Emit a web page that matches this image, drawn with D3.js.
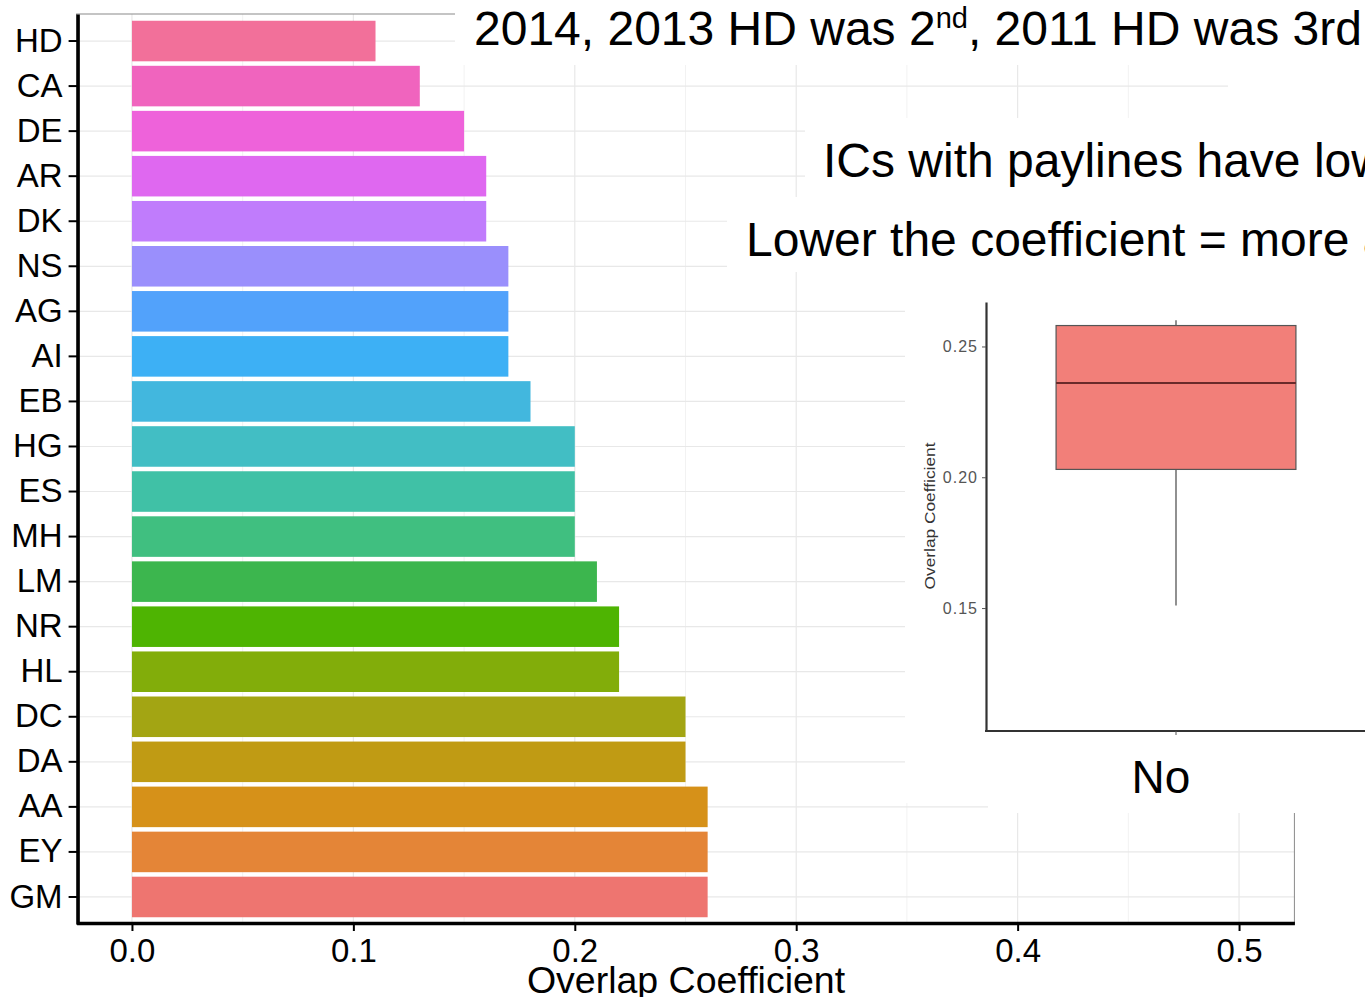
<!DOCTYPE html>
<html>
<head>
<meta charset="utf-8">
<script src="https://cdn.jsdelivr.net/npm/d3@7"></script>
<style>
  html, body { margin: 0; padding: 0; background: #fff; }
  svg { display: block; }
  text { font-family: "Liberation Sans", Arial, sans-serif; }
</style>
</head>
<body>
<script>
// ---------- data ----------
const categories = ["HD","CA","DE","AR","DK","NS","AG","AI","EB","HG","ES","MH","LM","NR","HL","DC","DA","AA","EY","GM"];
const values     = [0.11,0.13,0.15,0.16,0.16,0.17,0.17,0.17,0.18,0.20,0.20,0.20,0.21,0.22,0.22,0.25,0.25,0.26,0.26,0.26];
const barColors  = ["#F2709A","#F064BE","#EE62DA","#DF68F0","#C07CFC","#9A8FFC","#52A2FB","#3DB0F5","#42B7DE","#42BEC4",
                    "#40C1A6","#40BF80","#3CB64E","#4EB402","#82AD0A","#A3A513","#C09B14","#D69119","#E48537","#EE7570"];
const xTickValues = [0, 0.1, 0.2, 0.3, 0.4, 0.5];
const xTitle = "Overlap Coefficient";

// inset boxplot
const boxGroups = ["No"];
const boxLower  = [0.151];
const boxQ1     = [0.203];
const boxMedian = [0.236];
const boxQ3     = [0.258];
const boxUpper  = [0.260];
const insetTicks = [0.15, 0.20, 0.25];
const insetTitle = "Overlap Coefficient";

// slide text
const titlePre = "2014, 2013 HD was 2";
const titleSup = "nd";
const titlePost = ", 2011 HD was 3rd";
const note1 = "ICs with paylines have low";
const note2 = "Lower the coefficient = more a";

// ---------- layout ----------
const W = 1365, H = 997;
const svg = d3.select("body").append("svg").attr("width", W).attr("height", H);
svg.append("rect").attr("width", W).attr("height", H).attr("fill", "#fff");

const panel = {left: 76.6, right: 1294.4, top: 14, bottom: 924};
const xPad = 0.025;
const x = d3.scaleLinear().domain([xTickValues[0] - xPad, xTickValues[xTickValues.length-1] + xPad])
  .range([panel.left, panel.right]);
const y = d3.scaleBand().domain(categories).range([panel.top, panel.bottom])
  .paddingInner(0.1).paddingOuter(0.15);

// grid
const grid = svg.append("g");
const minor = d3.pairs(xTickValues).map(p => (p[0] + p[1]) / 2);
grid.selectAll(".vmin").data(minor).join("line")
  .attr("x1", d => x(d)).attr("x2", d => x(d)).attr("y1", panel.top).attr("y2", panel.bottom)
  .attr("stroke", "#f2f2f2").attr("stroke-width", 1);
grid.selectAll(".vmaj").data(xTickValues).join("line")
  .attr("x1", d => x(d)).attr("x2", d => x(d)).attr("y1", panel.top).attr("y2", panel.bottom)
  .attr("stroke", "#e8e8e8").attr("stroke-width", 1.2);
grid.selectAll(".h").data(categories).join("line")
  .attr("x1", panel.left).attr("x2", panel.right)
  .attr("y1", d => y(d) + y.bandwidth()/2).attr("y2", d => y(d) + y.bandwidth()/2)
  .attr("stroke", "#e8e8e8").attr("stroke-width", 1.2);

// bars
svg.append("g").selectAll("rect").data(categories).join("rect")
  .attr("x", x(0))
  .attr("y", d => y(d))
  .attr("width", (d, i) => x(values[i]) - x(0))
  .attr("height", y.bandwidth())
  .attr("fill", (d, i) => barColors[i]);

// panel border
svg.append("rect").attr("x", panel.left).attr("y", panel.top)
  .attr("width", panel.right - panel.left).attr("height", panel.bottom - panel.top)
  .attr("fill", "none").attr("stroke", "#8a8a8a").attr("stroke-width", 1);

// axes
const gx = svg.append("g").attr("transform", `translate(0,${panel.bottom - 1})`)
  .call(d3.axisBottom(x).tickValues(xTickValues).tickFormat(d3.format(".1f"))
    .tickSize(8).tickPadding(8).tickSizeOuter(0));
gx.select(".domain").attr("stroke", "#000").attr("stroke-width", 3.5);
gx.selectAll(".tick line").attr("stroke", "#000").attr("stroke-width", 2);
gx.selectAll(".tick text").attr("font-size", 33).attr("fill", "#000")
  .attr("font-family", "'Liberation Sans', Arial, sans-serif");

const gy = svg.append("g").attr("transform", `translate(${panel.left + 1},0)`)
  .call(d3.axisLeft(y).tickSize(9).tickPadding(6).tickSizeOuter(0));
gy.select(".domain").attr("stroke", "#000").attr("stroke-width", 3.5);
gy.selectAll(".tick line").attr("stroke", "#000").attr("stroke-width", 2);
gy.selectAll(".tick text").attr("font-size", 33).attr("fill", "#000")
  .attr("font-family", "'Liberation Sans', Arial, sans-serif");

svg.append("text").attr("x", (x(xTickValues[0]) + x(xTickValues[xTickValues.length-1])) / 2 + 0.5)
  .attr("y", 993).attr("text-anchor", "middle").attr("font-size", 37.5).attr("fill", "#000")
  .text(xTitle);

// ---------- slide overlays (white boxes) ----------
const boxes = [
  {x: 455, y: 0, w: 910, h: 65},
  {x: 1228, y: 65, w: 137, h: 53},
  {x: 805, y: 118, w: 560, h: 79},
  {x: 727, y: 197, w: 638, h: 75},
  {x: 905, y: 272, w: 460, h: 531},
  {x: 988, y: 803, w: 377, h: 10}
];
svg.append("g").selectAll("rect").data(boxes).join("rect")
  .attr("x", d => d.x).attr("y", d => d.y).attr("width", d => d.w).attr("height", d => d.h)
  .attr("fill", "#fff");

// title
const t = svg.append("text").attr("x", 474).attr("y", 45).attr("font-size", 48).attr("fill", "#000");
t.append("tspan").text(titlePre);
t.append("tspan").attr("dy", -17).attr("font-size", 29).text(titleSup);
t.append("tspan").attr("dy", 17).text(titlePost);

svg.append("text").attr("x", 823).attr("y", 177).attr("font-size", 48).attr("fill", "#000").text(note1);
svg.append("text").attr("x", 746).attr("y", 256).attr("font-size", 48).attr("fill", "#000").text(note2);

// ---------- inset boxplot ----------
const inset = svg.append("g");
const iy = d3.scaleLinear().domain([0.103, 0.267]).range([731, 302]);
const ix = d3.scaleBand().domain(boxGroups).range([981, 1371]);
const boxW = ix.bandwidth() * 0.615;

const giy = inset.append("g").attr("transform", "translate(986,0)")
  .call(d3.axisLeft(iy).tickValues(insetTicks).tickFormat(d3.format(".2f"))
    .tickSize(4).tickPadding(4).tickSizeOuter(0));
giy.select(".domain").attr("stroke", "#333").attr("stroke-width", 2.2);
giy.selectAll(".tick line").attr("stroke", "#555").attr("stroke-width", 1);
giy.selectAll(".tick text").attr("font-size", 16).attr("fill", "#555").attr("letter-spacing", 1)
  .attr("font-family", "'Liberation Sans', Arial, sans-serif");

inset.append("line").attr("x1", 985).attr("x2", W).attr("y1", iy.range()[0]).attr("y2", iy.range()[0])
  .attr("stroke", "#333").attr("stroke-width", 2.2);

const bg = inset.selectAll(".box").data(boxGroups).join("g");
bg.append("line")
  .attr("x1", d => ix(d) + ix.bandwidth()/2).attr("x2", d => ix(d) + ix.bandwidth()/2)
  .attr("y1", (d, i) => iy(boxLower[i])).attr("y2", (d, i) => iy(boxQ1[i]))
  .attr("stroke", "#555").attr("stroke-width", 1.3);
bg.append("line")
  .attr("x1", d => ix(d) + ix.bandwidth()/2).attr("x2", d => ix(d) + ix.bandwidth()/2)
  .attr("y1", (d, i) => iy(boxQ3[i])).attr("y2", (d, i) => iy(boxUpper[i]))
  .attr("stroke", "#555").attr("stroke-width", 1.3);
bg.append("rect")
  .attr("x", d => ix(d) + ix.bandwidth()/2 - boxW/2)
  .attr("y", (d, i) => iy(boxQ3[i]))
  .attr("width", boxW)
  .attr("height", (d, i) => iy(boxQ1[i]) - iy(boxQ3[i]))
  .attr("fill", "#F27F79").attr("stroke", "#555").attr("stroke-width", 1.2);
bg.append("line")
  .attr("x1", d => ix(d) + ix.bandwidth()/2 - boxW/2).attr("x2", d => ix(d) + ix.bandwidth()/2 + boxW/2)
  .attr("y1", (d, i) => iy(boxMedian[i])).attr("y2", (d, i) => iy(boxMedian[i]))
  .attr("stroke", "#6a2a2a").attr("stroke-width", 2);
bg.append("line")
  .attr("x1", d => ix(d) + ix.bandwidth()/2).attr("x2", d => ix(d) + ix.bandwidth()/2)
  .attr("y1", iy.range()[0]).attr("y2", iy.range()[0] + 4)
  .attr("stroke", "#555").attr("stroke-width", 1);
bg.append("text")
  .attr("x", d => ix(d) + ix.bandwidth()/2 - 15).attr("y", 793)
  .attr("text-anchor", "middle").attr("font-size", 46).attr("fill", "#000")
  .text(d => d);

inset.append("text").attr("transform", "translate(935,516) rotate(-90)")
  .attr("text-anchor", "middle").attr("font-size", 15).attr("fill", "#333")
  .attr("textLength", 147).attr("lengthAdjust", "spacingAndGlyphs")
  .text(insetTitle);
</script>
</body>
</html>
